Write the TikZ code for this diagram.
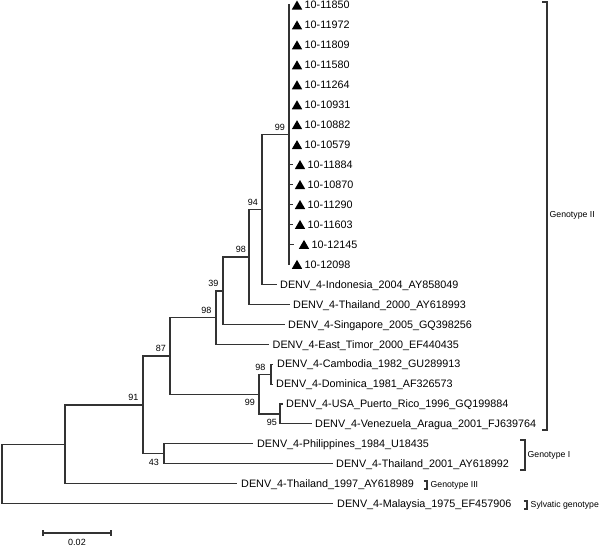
\documentclass[tikz,border=0pt]{standalone}
\usepackage{fontspec}
\setmainfont{Liberation Sans}
\usetikzlibrary{shapes.geometric}
\newcommand\leaffont{\fontsize{10.8}{12}\selectfont}
\newcommand\bsfont{\fontsize{9}{10}\selectfont}
\newcommand\gtfont{\fontsize{8.7}{10}\selectfont}
\begin{document}
\begin{tikzpicture}[x=1pt,y=-1pt,
  br/.style={line width=1.05pt, draw=black!80},
  leaf/.style={font=\leaffont, inner sep=0pt, anchor=west, text height=7.7pt, text depth=0pt},
  tri/.style={regular polygon, regular polygon sides=3, fill=black, inner sep=0pt, minimum size=12pt},
  bsup/.style={font=\bsfont, inner sep=0pt, anchor=south east},
  bsdn/.style={font=\bsfont, inner sep=0pt, anchor=north east},
  gt/.style={font=\gtfont, inner sep=0pt, anchor=west, text height=6.3pt, text depth=1.8pt}]
\useasboundingbox (0,0) rectangle (600,546);

% internal nodes
\coordinate (n99a) at (289,134.7);
\coordinate (n94)  at (262,209.5);
\coordinate (n98a) at (249,257);
\coordinate (n39)  at (223,291);
\coordinate (n98b) at (216,317.5);
\coordinate (n87)  at (170,356);
\coordinate (n99c) at (259,394.1);
\coordinate (n98c) at (271,374.1);
\coordinate (n95)  at (280,414);
\coordinate (n91)  at (143,405);
\coordinate (n43)  at (164,453.9);
\coordinate (n65)  at (65,444.5);
\coordinate (root) at (2,474);

% internal branches
\draw[br] (n94) |- (n99a);
\draw[br] (n98a) |- (n94);
\draw[br] (n39) |- (n98a);
\draw[br] (n98b) |- (n39);
\draw[br] (n87) |- (n98b);
\draw[br] (n87) |- (n99c);
\draw[br] (n99c) |- (n98c);
\draw[br] (n99c) |- (n95);
\draw[br] (n91) |- (n87);
\draw[br] (n91) |- (n43);
\draw[br] (n65) |- (n91);
\draw[br] (root) |- (n65);

% marked isolates
\foreach \i/\name/\xe/\off in {0/10-11850/290/0, 1/10-11972/290/0, 2/10-11809/290/0,
  3/10-11580/290/0, 4/10-11264/290/0, 5/10-10931/290/0, 6/10-10882/290/0,
  7/10-10579/290/0, 8/10-11884/293/0, 9/10-10870/293/0, 10/10-11290/293/0,
  11/10-11603/293/0, 12/10-12145/294/3, 13/10-12098/290/0}{
  \pgfmathsetmacro\yy{5+19.95*\i}
  \coordinate (e\i) at (\xe,\yy);
  \draw[br] (n99a) |- (e\i);
  \node[tri] (t\i) at ([shift={(7+\off,1.5)}]e\i) {};
  \node[leaf] (L\i) at ([xshift=14.5pt+\off pt]e\i) {\name};
}

% reference strains
\coordinate (e14) at (277,284.3);
\coordinate (e15) at (290,304.25);
\coordinate (e16) at (285,324.2);
\coordinate (e17) at (269,344.15);
\coordinate (e18) at (273,364.1);
\coordinate (e19) at (273,384.05);
\coordinate (e20) at (283,404);
\coordinate (e21) at (312,423.95);
\coordinate (e22) at (253,443.9);
\coordinate (e23) at (333,463.85);
\coordinate (e24) at (237,483.8);
\coordinate (e25) at (333,503.75);

\draw[br] (n94) |- (e14);
\draw[br] (n98a) |- (e15);
\draw[br] (n39) |- (e16);
\draw[br] (n98b) |- (e17);
\draw[br] (n98c) |- (e18);
\draw[br] (n98c) |- (e19);
\draw[br] (n95) |- (e20);
\draw[br] (n95) |- (e21);
\draw[br] (n43) |- (e22);
\draw[br] (n43) |- (e23);
\draw[br] (n65) |- (e24);
\draw[br] (root) |- (e25);

\node[leaf] (L14) at ([xshift=3pt]e14) {DENV\_4-Indonesia\_2004\_AY858049};
\node[leaf] (L15) at ([xshift=3pt]e15) {DENV\_4-Thailand\_2000\_AY618993};
\node[leaf] (L16) at ([xshift=3pt]e16) {DENV\_4-Singapore\_2005\_GQ398256};
\node[leaf] (L17) at ([xshift=3.5pt]e17) {DENV\_4-East\_Timor\_2000\_EF440435};
\node[leaf] (L18) at ([xshift=4pt]e18) {DENV\_4-Cambodia\_1982\_GU289913};
\node[leaf] (L19) at ([xshift=3pt]e19) {DENV\_4-Dominica\_1981\_AF326573};
\node[leaf] (L20) at ([xshift=3pt]e20) {DENV\_4-USA\_Puerto\_Rico\_1996\_GQ199884};
\node[leaf] (L21) at ([xshift=3pt]e21) {DENV\_4-Venezuela\_Aragua\_2001\_FJ639764};
\node[leaf] (L22) at ([xshift=4pt]e22) {DENV\_4-Philippines\_1984\_U18435};
\node[leaf] (L23) at ([xshift=3pt]e23) {DENV\_4-Thailand\_2001\_AY618992};
\node[leaf] (L24) at ([xshift=4pt]e24) {DENV\_4-Thailand\_1997\_AY618989};
\node[leaf] (L25) at ([xshift=4pt]e25) {DENV\_4-Malaysia\_1975\_EF457906};

% bootstrap values
\node[bsup] (b99a) at ([shift={(-4,-4)}]n99a) {99};
\node[bsup] (b94)  at ([shift={(-4,-4)}]n94) {94};
\node[bsup] (b98a) at ([shift={(-3,-4)}]n98a) {98};
\node[bsup] (b39)  at ([shift={(-4.5,-4)}]n39) {39};
\node[bsup] (b98b) at ([shift={(-4.5,-4)}]n98b) {98};
\node[bsup] (b87)  at ([shift={(-4,-4.5)}]n87) {87};
\node[bsup] (b91)  at ([shift={(-4.5,-4.5)}]n91) {91};
\node[bsup] (b98c) at ([shift={(-5.5,-3)}]n98c) {98};
\node[bsdn] (b99c) at ([shift={(-4,5)}]n99c) {99};
\node[bsdn] (b95)  at ([shift={(-3,5.5)}]n95) {95};
\node[bsdn] (b43)  at ([shift={(-5,5.5)}]n43) {43};

% genotype brackets
\coordinate (g2t) at (547,2);
\coordinate (g2b) at (547,430);
\draw[br] ([xshift=-5pt]g2t) -- (g2t) -- (g2b) -- ([xshift=-5pt]g2b);
\node[gt] (G2) at (549.5,215) {Genotype II};

\coordinate (g1t) at (525,440);
\coordinate (g1b) at (525,470);
\draw[br] ([xshift=-5pt]g1t) -- (g1t) -- (g1b) -- ([xshift=-5pt]g1b);
\node[gt] (G1) at (527.5,455) {Genotype I};

\coordinate (g3t) at (427,481);
\coordinate (g3b) at (427,489);
\draw[br] ([xshift=-3.5pt]g3t) -- (g3t) -- (g3b) -- ([xshift=-3.5pt]g3b);
\node[gt] (G3) at (430.5,485) {Genotype III};

\coordinate (gst) at (527,501);
\coordinate (gsb) at (527,509);
\draw[br] ([xshift=-3.5pt]gst) -- (gst) -- (gsb) -- ([xshift=-3.5pt]gsb);
\node[gt] (GS) at (530.5,505) {Sylvatic genotype};

% scale bar
\coordinate (sbl) at (43,533);
\coordinate (sbr) at (111,533);
\draw[br] (sbl) -- (sbr);
\draw[br] ([yshift=3pt]sbl) -- ([yshift=-3pt]sbl);
\draw[br] ([yshift=3pt]sbr) -- ([yshift=-3pt]sbr);
\node[font=\bsfont, inner sep=0pt, anchor=base] (sbt) at (77,545) {0.02};
\end{tikzpicture}
\end{document}
